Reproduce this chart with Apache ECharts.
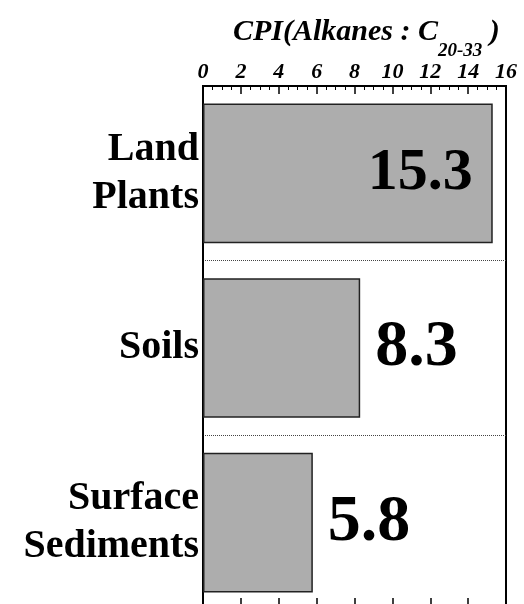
<!DOCTYPE html>
<html>
<head>
<meta charset="utf-8">
<script src="https://cdn.jsdelivr.net/npm/echarts@6/dist/echarts.min.js"></script>
<style>
  html, body { margin: 0; padding: 0; background: #fff; }
  #chart { width: 524px; height: 604px; }
</style>
</head>
<body>
<div id="chart"></div>
<script>
// data
var categories = ['Land\nPlants', 'Soils', 'Surface\nSediments'];
var cpiValues = [15.3, 8.3, 5.8];
var labelInside = [true, false, false]; // 15.3 sits inside its bar
var axisMin = 0, axisMax = 16, axisStep = 2;

var serif = 'Liberation Serif, Times New Roman, serif';

var chart = echarts.init(document.getElementById('chart'));

var barData = cpiValues.map(function (v, i) {
    var inside = labelInside[i];
    return {
        value: v,
        label: {
            show: true,
            position: inside ? 'insideRight' : 'right',
            distance: inside ? 20 : 15,
            fontSize: inside ? 60 : 66,
            fontFamily: serif,
            fontWeight: 'bold',
            color: '#000'
        }
    };
});

chart.setOption({
    animation: false,
    title: {
        left: 233,
        top: 17,
        padding: 0,
        text: '{a|CPI(Alkanes : C}{b|20-33}{a| )}',
        textStyle: {
            rich: {
                a: { fontFamily: serif, fontSize: 30, fontWeight: 'bold', fontStyle: 'italic', color: '#000', lineHeight: 44, verticalAlign: 'top' },
                b: { fontFamily: serif, fontSize: 19, fontWeight: 'bold', fontStyle: 'italic', color: '#000', lineHeight: 44, verticalAlign: 'bottom' }
            }
        }
    },
    grid: {
        left: 203, right: 18, top: 86, height: 524,
        outerBoundsMode: 'none',
        show: true, borderColor: '#000', borderWidth: 2, backgroundColor: 'transparent',
        containLabel: false
    },
    xAxis: [
        { // top axis, labelled
            type: 'value', position: 'top',
            min: axisMin, max: axisMax, interval: axisStep,
            axisLine: { show: true, lineStyle: { color: '#000', width: 2 } },
            axisTick: { show: true, inside: true, length: 8, lineStyle: { color: '#000', width: 1.5 } },
            minorTick: { show: true, splitNumber: 4, length: 4, lineStyle: { color: '#000', width: 1 } },
            splitLine: { show: false },
            axisLabel: {
                margin: 3,
                fontFamily: serif, fontSize: 22, fontWeight: 'bold', fontStyle: 'italic', color: '#000'
            }
        },
        { // bottom axis, ticks only
            type: 'value', position: 'bottom',
            min: axisMin, max: axisMax, interval: axisStep,
            axisLine: { show: true, lineStyle: { color: '#000', width: 2 } },
            axisTick: { show: true, inside: true, length: 12, lineStyle: { color: '#000', width: 1.5 } },
            splitLine: { show: false },
            axisLabel: { show: false }
        }
    ],
    yAxis: {
        type: 'category',
        data: categories,
        inverse: true,
        axisLine: { show: true, lineStyle: { color: '#000', width: 2 } },
        axisTick: { show: false },
        splitLine: { show: true, lineStyle: { type: 'dotted', color: '#444', width: 1 } },
        axisLabel: {
            margin: 4,
            align: 'right',
            fontFamily: serif, fontSize: 40, fontWeight: 'bold', color: '#000',
            lineHeight: 48
        }
    },
    series: [{
        type: 'bar',
        xAxisIndex: 0,
        data: barData,
        barCategoryGap: '20%',
        itemStyle: { color: '#adadad', borderColor: '#222', borderWidth: 1.5 }
    }]
});
</script>
</body>
</html>
